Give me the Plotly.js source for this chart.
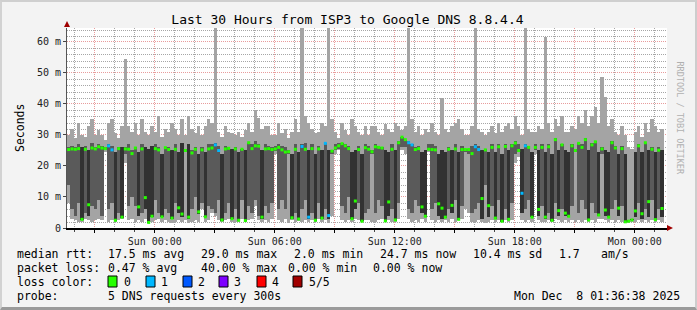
<!DOCTYPE html>
<html><head><meta charset="utf-8">
<script src="https://cdn.plot.ly/plotly-3.0.1.min.js"></script>
<style>
html,body{margin:0;padding:0;background:#f3f3f3;}
#wrap{position:relative;width:697px;height:310px;}
#chart{position:absolute;left:0;top:0;width:697px;height:310px;}
#frame{position:absolute;left:0;top:0;width:697px;height:310px;box-sizing:border-box;
 border-top:2px solid #cfcfcf;border-left:2px solid #d2d2d2;border-right:2px solid #cdcdcd;border-bottom:3px solid #9a9a9a;pointer-events:none;}
</style></head>
<body><div id="wrap"><div id="chart"></div><div id="frame"></div></div>
<script>
// ---- data (ms), one column per 10 minutes, starting Sat 2025-12-06 19:36:38 ----
const START = Date.UTC(2025, 11, 6, 19, 36, 38);
const STEP = 600000;
const SPAN_HOURS = 30;

const LO = [
 8,3,2.5,2,2,3,2.5,2,2.5,3,
 2.5,24.5,2,2.5,1.8,2.5,3,21,2.5,3,
 2,2.5,2,3,1.5,2,2.5,3,2,2.5,
 2,1.5,2,2.5,2,2.5,1.5,2,2.5,2,
 6,2,2.5,5,4,2.5,2,2.5,3,2,
 2,2,3,2,2.5,3,7,2.5,2,2.5,
 2,3,24,2.5,2,3,1.5,2.5,2,2.3,
 2,2.5,2,2.5,2,3,2,2.5,1.5,4,
 24,25,2.5,2,2.5,2,3,2.5,1.8,2.5,
 2.5,2,2,2.5,3,1.8,2.5,2,2,3,
 25,24,3,2,2.5,2,3,2,24.5,2.5,
 2,2.5,2,2.5,2,3,2,2.5,3,6,
 5,2,2,2.5,2,1.5,2,2.5,2,2.5,
 1.8,2.5,2,2.5,21,23,2.5,2,2.5,2,
 24,2.5,2,2,2.5,2,3,2.5,2,2.5,
 2,2.5,1.8,2.5,2,2.5,2,2.5,2,3,
 3,2.5,2,2.5,2,2.5,2,1.5,1.5,2,
 2,2.5,2,2.5,2,2.5,2,2.5,2];
const P2 = [
 14,6,4,8,2.5,5,4,7,6,9,
 4,25,6,8,2.2,5,3.2,24,7,10,
 7,4,5,6,1.7,3.5,9,5,3.5,6,
 5,3,8,5,3.5,24.5,3,6,10,4.5,
 8,3.5,7,6,5,9,2.4,5,8,2.8,
 6,2.3,9,2.2,7,5,9,4,3,7,
 5,8,24.8,6,9,6,24,3,5,2.7,
 6,9,3,5,2.3,8,3,6,3,24,
 25,25.5,7,5,10,3,6,8,2.1,5,
 6,24,5,9,7,2.1,4,6,2.4,8,
 26,26,6,5,9,7,5,3.5,25,6,
 8,4,3,3.2,6,5,9,2.6,7,24.5,
 24,5,6,8,3,14,3.5,7,3,9,
 2,6,2.6,8,24,24.5,5,6,9,3.5,
 25,4,7,3,5,2.3,8,4,6,4,
 3.5,7,24.5,5,9,6,2.4,8,5,3.8,
 24,4,3.5,6,9,4,7,1.8,2,2.5,
 3.5,8,3,6,3.5,9,2.5,6,3.5];
const P4 = [
 26,26.5,26,27,26,26.5,25,27.5,26,27,
 26.5,26.2,27,26.5,24.5,26,26,26,27,25,
 26,24.5,27,26,25.5,26.5,27,26,24,26,
 26,25,27,24.5,27.5,25.5,27,25,26,24,
 26,24.5,27,27,27.5,26.5,24,26.5,26,25.5,
 26,24.5,25.5,25,27.5,27,28,27,25,27,
 26.5,26,26.5,27,26.5,26,25,24,27,24.5,
 27,27.5,25,27,24,26.5,25,27.5,25,25,
 27,27.5,27.5,27,26.5,24.5,25,26.5,24,27,
 26.5,25,27,26.5,26,25,24.5,27,25,28,
 29.5,28.5,28,27,26,26.5,24.5,25,27,27,
 26.5,24,25,24.5,26,25,27,24.5,26.5,25.5,
 25.5,26.5,27,26.5,25,25.5,24.5,27,24.5,27,
 24,27,25,27,28,27,25.5,27,26.5,24.5,
 27,25,27,24.5,27,24,29,25,27,25,
 24.5,27,25.5,27.5,27,29,25,27.5,28,24.5,
 26,25,24.5,28,26.5,24,26.5,24,2.6,3,
 24.5,27,24.5,27.5,25,26,24.5,26,25];
const HI = [
 30,32,29,34,30,29.5,33,35,30,31.5,
 30,28.5,34,35,30.5,29,33,54.5,33,31,
 34,30,35,31,30,33,31,36,29.5,32,
 31,34,32,30,35,30,36,32,30.5,33,
 30,33,35,34,70,31,29.5,33,31,30.5,
 30,31,29.5,31.5,34,31,38,35.5,32,33,
 33,30,30,34,30.5,32,29,31,35,31,
 70,36,34,32,30.5,31,34,33,70,35,
 31,29,34,31.5,30,35,33,31,30,33,
 30,33,33,31,30,33.5,32,31,34,33,
 31.5,33,70,35,31,33,30,32,31,34,
 31,30,42,32,31,33,34,35,32,30,
 30,33,70,32,31,30,31,33,30.5,34,
 31,33,34,32,36,33,30,70,32,31,
 31,33,32,61.6,34,31,35,33,36,31,
 31,33,32,36,34,38,33,36,39,34,
 48.7,42.3,33,35,31,30,33,30,26,25.5,
 31,33,29.5,34,31,35,33,31,32];
const MED = [
 25.3,25.5,25.4,25.6,2.8,25.4,7.5,25.8,25.5,26.2,
 25.8,25.6,26.5,25.2,2.5,25.6,3.5,25.5,25.4,24,
 25.8,6.8,25.5,9.8,1.8,3.8,25.6,25.2,3.6,25.9,
 25.3,3.2,25.4,6.5,4.5,25,3.5,24.2,25.4,5.2,
 25.2,3.6,25.5,25.8,26.8,25,2.6,25.5,25.7,3,
 25.5,2.5,25.4,2.4,27.5,25.6,26.5,26.4,3.5,25.5,
 25.6,25.3,25.5,26,25.2,24.5,24.6,3.3,25.4,2.9,
 26.3,25.4,3.5,25.6,2.5,25.5,3.2,27.3,4,24.8,
 25.8,26.5,27.2,26.5,25.6,3,8.7,25.3,2.2,25.9,
 25.4,24.6,26.2,26,25.8,2.3,8.4,25.4,2.6,27.5,
 29.3,28.5,27.5,26.8,25.3,25.6,6.8,3.8,25.4,25.3,
 25.2,7.8,6.4,3.5,25.4,7.3,25.5,2.8,25.3,25.3,
 25.3,24,26.2,25.3,9.5,25.2,7.2,26,3.2,26.2,
 2.2,26.3,2.8,26.5,27.4,25,11.2,26.5,26,3.5,
 26,6,26,3.5,26.2,2.5,28.5,5.6,26.8,4.8,
 3.8,26.5,25,27.3,26,28.5,2.6,26.8,27.8,4.2,
 25.5,5.8,3.5,27.5,25.8,6.4,25.6,2,2.2,2.6,
 5.5,26.5,4.6,27.5,8.5,25.4,2.7,25.1,6.3];
const LOSS = [
 0,0,0,0,0,0,0,0,0,0,
 0,0,1,1,0,0,0,0,0,0,
 0,0,0,0,0,0,0,0,0,0,
 0,0,0,0,0,0,0,0,0,0,
 0,0,0,0,1,1,0,0,0,0,
 0,0,0,0,0,0,0,0,0,0,
 0,0,0,0,0,0,0,0,0,0,
 1,0,1,0,0,0,0,1,1,0,
 0,0,0,0,0,0,0,0,0,0,
 0,0,0,0,0,0,0,0,0,0,
 0,0,1,1,0,0,0,0,0,0,
 0,0,0,0,0,0,0,0,0,0,
 0,0,1,1,0,0,0,0,0,0,
 0,0,0,0,0,0,1,1,0,0,
 0,0,0,0,0,0,0,0,0,0,
 0,0,0,0,0,0,0,0,0,0,
 0,0,0,0,0,0,0,0,0,0,
 0,0,0,0,0,0,0,0,0];

const Y_MAX = 64.5;
const Y_TICKS = [0,10,20,30,40,50,60];
const Y_LABELS = ['0','10 m','20 m','30 m','40 m','50 m','60 m'];
const X_TICK_TIMES = ['2025-12-06 21:00','2025-12-07 00:00','2025-12-07 03:00','2025-12-07 06:00',
  '2025-12-07 09:00','2025-12-07 12:00','2025-12-07 15:00','2025-12-07 18:00','2025-12-07 21:00','2025-12-08 00:00'];
const X_TICK_LABELS = ['','Sun 00:00','','Sun 06:00','','Sun 12:00','','Sun 18:00','','Mon 00:00'];
const LOSS_LEGEND = ['0','1','2','3','4','5/5'];
const TITLE = 'Last 30 Hours from ISP3 to Google DNS 8.8.4.4';
const STATS = [
 [[16,'median rtt:'],[107,'17.5 ms avg'],[200,'29.0 ms max'],[293,'2.0 ms min'],[379,'24.7 ms now'],[472,'10.4 ms sd'],[558,'1.7'],[600,'am/s']],
 [[16,'packet loss:'],[107,'0.47 % avg'],[200,'40.00 % max'],[287,'0.00 % min'],[372,'0.00 % now']],
 [[16,'loss color:']],
 [[16,'probe:'],[107,'5 DNS requests every 300s'],[513,'Mon Dec\u00a0 8 01:36:38 2025']]
];

// ---- styles ----
const LOSS_COLORS = ['#26ff00','#00b8ff','#0059ff','#7e00ff','#ff0000','#a10000'];
const FONT = 'DejaVu Sans Mono, monospace';
const LIGHT = '#a4a4a4', DARK = '#5a5a5a', DARKER = '#323232';
const GRID_MAJOR = '#e89c9c', GRID_MINOR = '#a6a6a6', DOTS = '1px,1px';

function fmt(ms){
  const d = new Date(ms), p = n => String(n).padStart(2,'0');
  return d.getUTCFullYear()+'-'+p(d.getUTCMonth()+1)+'-'+p(d.getUTCDate())+' '+p(d.getUTCHours())+':'+p(d.getUTCMinutes())+':'+p(d.getUTCSeconds());
}
const X = LO.map((_, i) => fmt(START + (i + 0.5) * STEP));
const X_RANGE = [fmt(START), fmt(START + SPAN_HOURS * 3600000)];

// plot area in pixels: x 67..667, y 28..228
const PL = 67, PR = 667, PT = 28, PB = 228;
const px = x => (x - PL) / (PR - PL);
const py = y => (PB - y) / (PB - PT);

const traces = [
  {type:'bar', x:X, base:LO, y:HI.map((h,i)=>h-LO[i]), width:STEP,
   marker:{color:LIGHT, line:{width:0}}, hoverinfo:'skip'},
  {type:'bar', x:X, base:P2, y:P4.map((h,i)=>h-P2[i]), width:STEP,
   marker:{color:MED.map(m => m < 15 ? DARKER : DARK), line:{width:0}}, hoverinfo:'skip'},
  {type:'scatter', mode:'markers', x:X, y:MED,
   marker:{symbol:'square', size:3, color:LOSS.map(l=>LOSS_COLORS[l]), line:{width:0}}, hoverinfo:'skip'}
];

const shapes = [];
// minor horizontal grid every 2 ms (between 10 ms major lines), snapped to pixel rows
for (let v = 2; v < Y_MAX; v += 2) {
  if (v % 10 === 0) continue;
  const row = Math.round(PB - v * (PB - PT) / Y_MAX);
  const yv = (PB - (row + 0.5)) * Y_MAX / (PB - PT);
  shapes.push({type:'line', layer:'below', xref:'x', x0:X_RANGE[0], x1:X_RANGE[1], yref:'y', y0:yv, y1:yv,
    line:{color:GRID_MINOR, width:1, dash:DOTS}});
}

const annotations = [];
STATS.forEach((row, r) => {
  const yy = 254 + r * 14;
  row.forEach(([x, t]) => annotations.push({xref:'paper', yref:'paper', x:px(x), y:py(yy),
    xanchor:'left', yanchor:'middle', text:t, showarrow:false, borderpad:0,
    font:{family:FONT, size:11.5, color:'#000'}}));
});
const boxX = [108,146,183,219,257,293], labX = [123,160,197,233,271,308];
LOSS_LEGEND.forEach((t, k) => {
  annotations.push({xref:'paper', yref:'paper', x:px(labX[k]), y:py(282), xanchor:'left', yanchor:'middle',
    text:t, showarrow:false, borderpad:0, font:{family:FONT, size:11.5, color:'#000'}});
  shapes.push({type:'rect', xref:'paper', yref:'paper', x0:px(boxX[k]), x1:px(boxX[k]+9),
    y0:py(287), y1:py(276), fillcolor:LOSS_COLORS[k], line:{color:'#000', width:1}});
});
annotations.push({xref:'paper', yref:'paper', x:px(11), y:py(128), text:'Seconds', textangle:-90,
  showarrow:false, font:{family:FONT, size:11.5, color:'#000'}});
annotations.push({xref:'paper', yref:'paper', x:px(687), y:py(59), text:'RRDTOOL / TOBI OETIKER', textangle:90,
  showarrow:false, font:{family:FONT, size:8.5, color:'#b0b0b0'}});
// axis arrows
const tri = (pts) => 'M' + pts.map(p => px(p[0]) + ',' + py(p[1])).join(' L') + ' Z';
shapes.push({type:'path', xref:'paper', yref:'paper', path:tri([[64,27],[70,27],[67,21]]), fillcolor:'#a00000', line:{width:0}});
shapes.push({type:'path', xref:'paper', yref:'paper', path:tri([[667,225],[667,231],[673,228]]), fillcolor:'#a00000', line:{width:0}});

const layout = {
  width:697, height:310,
  margin:{l:PL, r:697-PR, t:PT, b:310-PB, pad:0},
  paper_bgcolor:'#f3f3f3', plot_bgcolor:'#ffffff',
  showlegend:false, barmode:'overlay', bargap:0,
  font:{family:FONT, color:'#000'},
  title:{text:TITLE, font:{family:FONT, size:13, color:'#000'}, xref:'container', x:0.4985, yref:'container', y:1-19/310, yanchor:'middle', xanchor:'center'},
  xaxis:{type:'date', range:X_RANGE,
    tickmode:'array', tickvals:X_TICK_TIMES, ticktext:X_TICK_LABELS,
    showgrid:true, gridcolor:GRID_MAJOR, griddash:DOTS, gridwidth:1,
    ticks:'outside', ticklen:3, tickcolor:'#000', showline:true, linecolor:'#000', linewidth:2,
    zeroline:false, tickfont:{family:FONT, size:10, color:'#222'}, fixedrange:true,
    minor:{tickmode:'linear', tick0:'2025-12-06 20:00', dtick:3600000, showgrid:true,
      gridcolor:GRID_MINOR, griddash:DOTS, gridwidth:1, ticks:'outside', ticklen:2, tickcolor:'#444'}},
  yaxis:{range:[0,Y_MAX], tickmode:'array', tickvals:Y_TICKS, ticktext:Y_LABELS,
    showgrid:true, gridcolor:GRID_MAJOR, griddash:DOTS, gridwidth:1,
    ticks:'outside', ticklen:3, tickcolor:'#444', showline:true, linecolor:'#555', linewidth:1,
    zeroline:false, tickfont:{family:FONT, size:10, color:'#222'}, fixedrange:true},
  annotations, shapes
};
Plotly.newPlot('chart', traces, layout, {staticPlot:true, displayModeBar:false});
</script></body></html>
